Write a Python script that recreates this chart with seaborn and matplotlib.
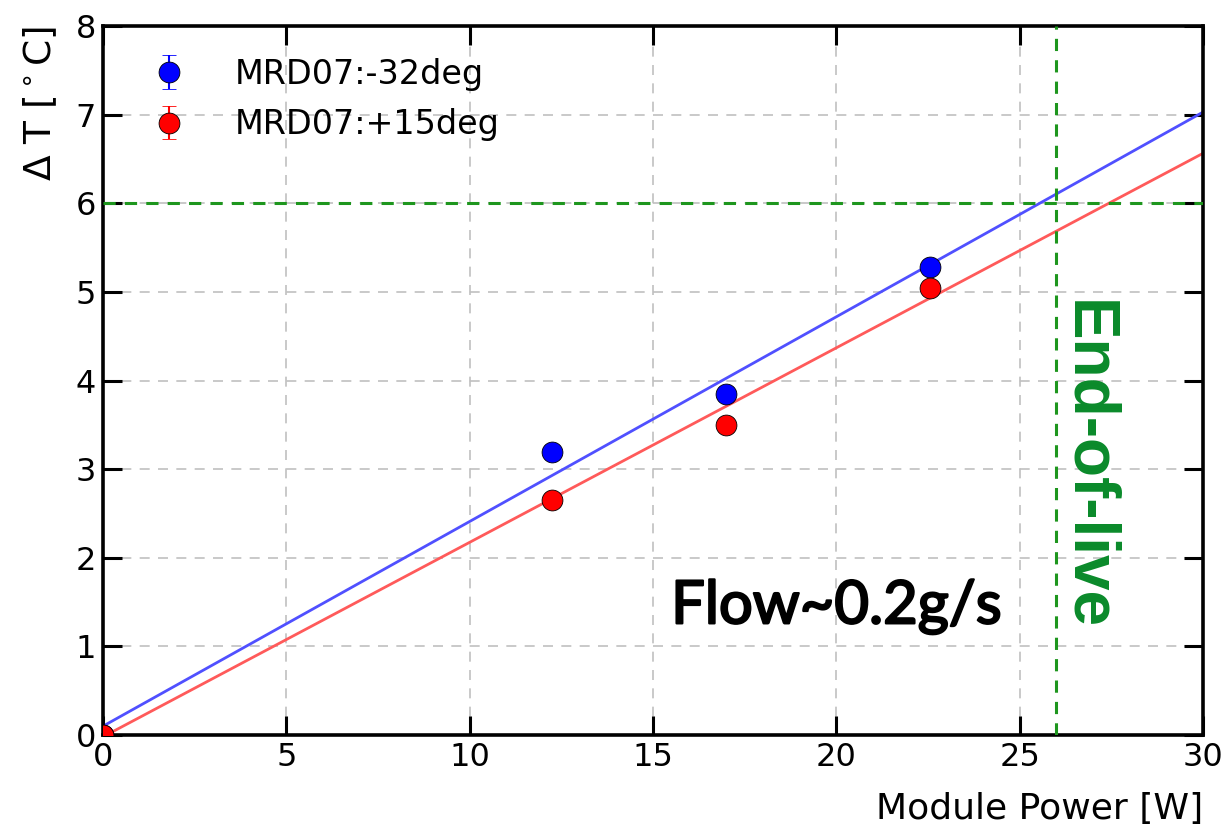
import numpy as np
import pandas as pd
import matplotlib
matplotlib.use("Agg")
import matplotlib.pyplot as plt
import matplotlib.patheffects as pe
import seaborn as sns

# Measured temperature rise versus module power
power_w = [0.0, 12.25, 17.0, 22.55]
dt_minus32 = [0.0, 3.19, 3.85, 5.28]
dt_plus15 = [0.0, 2.65, 3.50, 5.04]
err_minus32 = [0.05, 0.05, 0.05, 0.05]
err_plus15 = [0.05, 0.05, 0.05, 0.05]

# Linear fit parameters (slope in degC/W, intercept in degC)
fit_minus32 = (0.2310, 0.10)
fit_plus15 = (0.2195, -0.02)

labels = ["MRD07:-32deg", "MRD07:+15deg"]
x_ticks = [0, 5, 10, 15, 20, 25, 30]
y_ticks = [0, 1, 2, 3, 4, 5, 6, 7, 8]
limit_dt = 6
limit_power = 26

sns.set_style("white")
plt.rcParams["font.family"] = ["DejaVu Sans"]
plt.rcParams["text.color"] = "black"
plt.rcParams["axes.labelcolor"] = "black"
plt.rcParams["xtick.color"] = "black"
plt.rcParams["ytick.color"] = "black"

fig = plt.figure(figsize=(12.24, 8.26), dpi=100)
ax = fig.add_axes([0.084, 0.110, 0.899, 0.8585])

xs = np.linspace(x_ticks[0], x_ticks[-1], 61)
fit_df = pd.DataFrame({
    "power": np.concatenate([xs, xs]),
    "dt": np.concatenate([fit_minus32[0] * xs + fit_minus32[1],
                          fit_plus15[0] * xs + fit_plus15[1]]),
    "series": [labels[0]] * len(xs) + [labels[1]] * len(xs),
})
sns.lineplot(data=fit_df, x="power", y="dt", hue="series",
             palette={labels[0]: "#5050ff", labels[1]: "#ff5a5a"},
             linewidth=2.0, legend=False, ax=ax, zorder=2)

h1 = ax.errorbar(power_w, dt_minus32, yerr=err_minus32, fmt="o", color="blue",
                 ecolor="blue", markersize=15, markeredgecolor="black",
                 markeredgewidth=0.6, capsize=5, label=labels[0], zorder=4)
h2 = ax.errorbar(power_w, dt_plus15, yerr=err_plus15, fmt="o", color="red",
                 ecolor="red", markersize=15, markeredgecolor="black",
                 markeredgewidth=0.6, capsize=5, label=labels[1], zorder=5)

ax.axhline(limit_dt, color="#1e961e", linestyle=(0, (4, 3)), linewidth=2.2, zorder=3)
ax.axvline(limit_power, color="#1e961e", linestyle=(0, (4, 3)), linewidth=2.2, zorder=3)

ax.set_xlim(x_ticks[0], x_ticks[-1])
ax.set_ylim(y_ticks[0], y_ticks[-1])
ax.set_xticks(x_ticks)
ax.set_yticks(y_ticks)
ax.grid(True, color="#c0c0c0", linestyle=(0, (6, 5)), linewidth=1.2)
ax.tick_params(direction="in", length=14, width=2.2, labelsize=23,
               top=True, right=True, bottom=True, left=True, pad=5)
for s in ax.spines.values():
    s.set_linewidth(2.6)
    s.set_color("black")

ax.set_xlabel("Module Power [W]", fontsize=26, ha="right")
ax.xaxis.set_label_coords(1.0, -0.08)
ax.set_ylabel(r"$\Delta$ T [$^\circ$C]", fontsize=27, ha="right")
ax.yaxis.set_label_coords(-0.040, 1.0)

ax.text(20.0, 1.45, "Flow~0.2g/s", fontsize=43, family="Lato",
        ha="center", va="center", color="black",
        path_effects=[pe.withStroke(linewidth=1.6, foreground="black")])
ax.text(26.85, 3.05, "End-of-live", fontsize=46, family="Liberation Sans",
        fontweight="bold", rotation=-90, ha="center", va="center", color="#0a8a2a")

ax.legend(handles=[h1, h2], labels=labels, loc="upper left", frameon=False,
          fontsize=24, handletextpad=0.95, borderaxespad=0.4, labelspacing=0.53,
          bbox_to_anchor=(0.006, 0.993))

fig.savefig("out.png", dpi=100)
